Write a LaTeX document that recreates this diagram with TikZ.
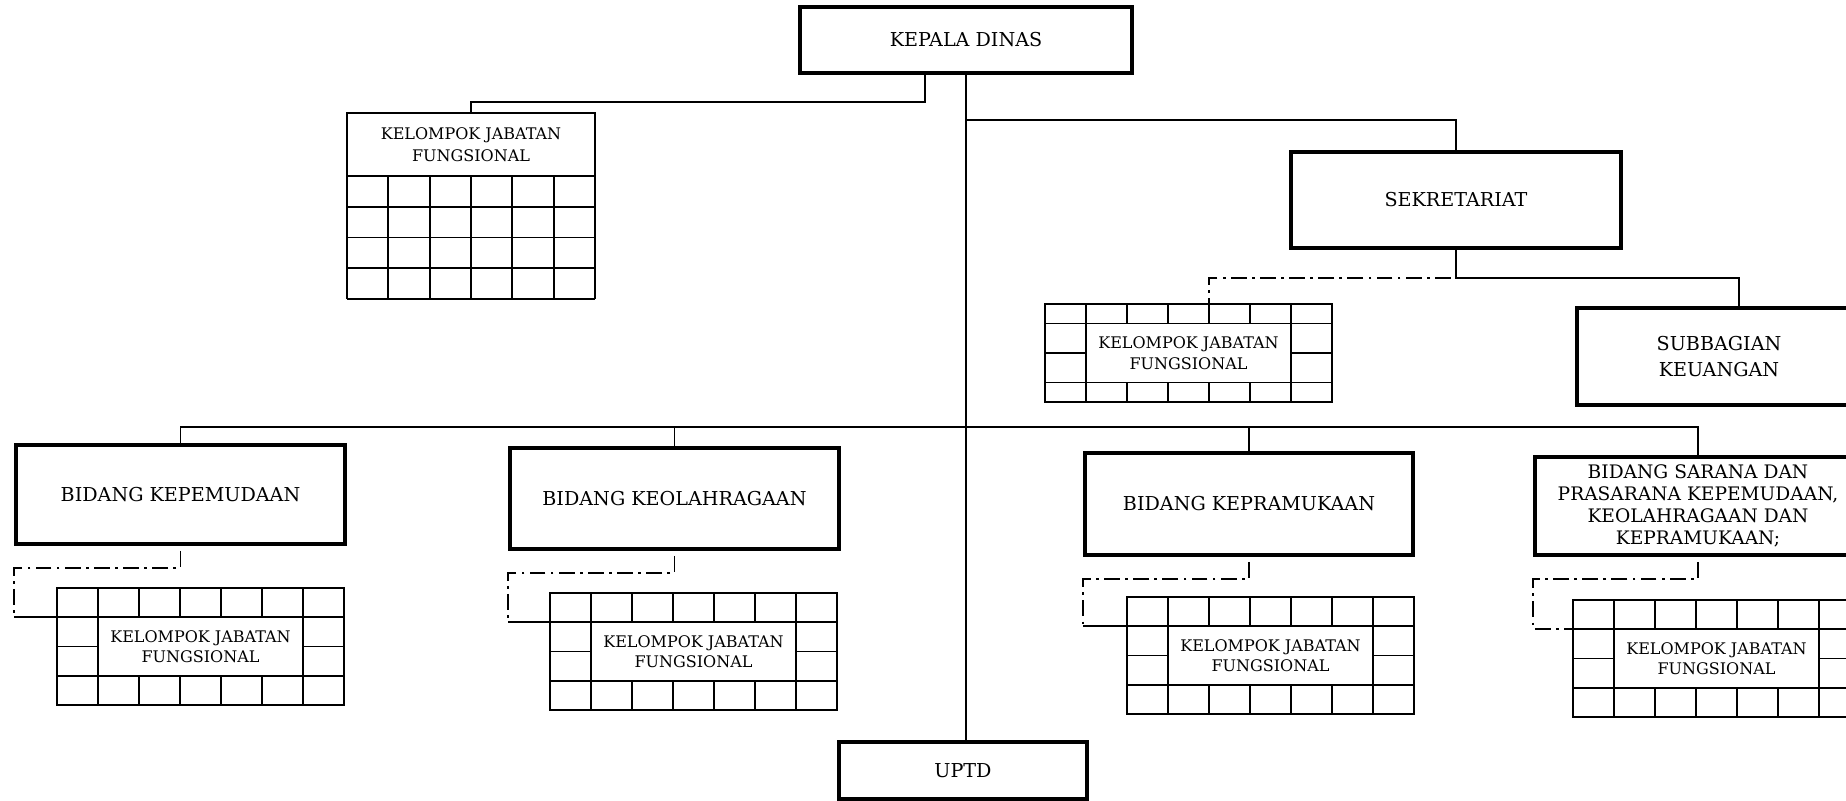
\documentclass[tikz,border=0pt]{standalone}
\usepackage{fontspec}
\setmainfont{DejaVu Serif}
\usetikzlibrary{positioning,calc}

% KJF box with a ring of cells: name, left, top, outer row height
\newcommand{\kjfring}[4]{%
  \node[kjfbox] (#1) at (#2+143.5,#3+#4+29.5) {KELOMPOK JABATAN\\FUNGSIONAL};
  \coordinate (#1-n) at (#2+143.5,#3);
  \coordinate (#1-r) at (#2,#3+#4);
  \draw[cellline] (#2,#3) rectangle ++(287,2*#4+59);
  \draw[cellline] (#2,#3+#4) -- ++(287,0) (#2,#3+#4+59) -- ++(287,0)
    (#2,#3+#4+29.5) -- ++(41,0) (#2+246,#3+#4+29.5) -- ++(41,0);
  \foreach \i in {1,...,6}
    \draw[cellline] (#2+41*\i,#3) -- ++(0,#4) (#2+41*\i,#3+#4+59) -- ++(0,#4);
}

\begin{document}
\begin{tikzpicture}[x=0.02cm,y=-0.02cm,
  unit/.style={draw,rectangle,line width=1.9pt,minimum width=6.58cm,minimum height=2cm,align=center,font={\fontsize{10.9}{14.5}\selectfont}},
  kjfbox/.style={draw,rectangle,line width=1pt,minimum width=4.1cm,minimum height=1.18cm,align=center,inner sep=1pt,font={\fontsize{9.1}{11.7}\selectfont}},
  cellline/.style={line width=1pt},
  link/.style={line width=1pt},
  kjfline/.style={line width=1.1pt,dash pattern=on 9pt off 3pt on 1.6pt off 3pt,dash phase=13.6pt}]
\clip (0,0) rectangle (1846,801);
\fill[white] (0,0) rectangle (1846,801);

% Top
\node[unit,minimum width=6.64cm,minimum height=1.32cm] (kepala) at (966,40) {KEPALA DINAS};
\node[kjfbox,minimum width=4.96cm,minimum height=1.26cm,font={\fontsize{9.1}{12.4}\selectfont}] (kjf0) at (471,144.5) {KELOMPOK JABATAN\\FUNGSIONAL};
\foreach \i in {0,...,6} \draw[cellline] (347+41.33*\i,176) -- ++(0,123);
\foreach \j in {1,...,4} \draw[cellline] (347,176+30.75*\j) -- ++(248,0);

% Sekretariat
\node[unit,minimum width=6.6cm,minimum height=1.92cm] (sek) at (1456,200) {SEKRETARIAT};
\node[unit,minimum width=5.68cm,minimum height=1.94cm] (sub) at (1719,356.5) {SUBBAGIAN\\KEUANGAN};
\kjfring{kjf1}{1045}{304}{19.5}

% Bidang
\node[unit,minimum height=1.98cm] (bid1) at (180.5,494.5) {BIDANG KEPEMUDAAN};
\node[unit,minimum height=2.02cm] (bid2) at (674.5,498.5) {BIDANG KEOLAHRAGAAN};
\node[unit,minimum width=6.56cm,minimum height=2.04cm] (bid3) at (1249,504) {BIDANG KEPRAMUKAAN};
\node[unit,minimum width=6.52cm,minimum height=1.96cm,font={\fontsize{10.6}{12.6}\selectfont}] (bid4) at (1698,506) {BIDANG SARANA DAN\\PRASARANA KEPEMUDAAN,\\KEOLAHRAGAAN DAN\\KEPRAMUKAAN;};
\kjfring{kjf2}{57}{588}{29}
\kjfring{kjf3}{550}{593}{29}
\kjfring{kjf4}{1127}{597}{29}
\kjfring{kjf5}{1573}{600}{29}

\node[unit,minimum width=4.96cm,minimum height=1.14cm] (uptd) at (963,770.5) {UPTD};

% Lines
\draw[link] (kepala.south) -- (kepala.south |- uptd.north);
\draw[link] ([xshift=-0.82cm]kepala.south) -- ++(0,27) -| (kjf0.north);
\draw[link] (kepala.south) ++(0,45) -| (sek.north);
\draw[link] (sek.south) -- ++(0,28) -| ([xshift=0.4cm]sub.north);
\draw[kjfline] (sek.south) ++(0,28) -| ([xshift=0.41cm]kjf1-n);

\coordinate (bus) at (966,427);
\draw[link] (bid1.north) |- (bus) -| (bid4.north);
\draw[link] (bid2.north) -- (bid2.north |- bus);
\draw[link] (bid3.north) -- (bid3.north |- bus);

\draw[kjfline] (bid1.south) -- ++(0,22) -| (bid1.west |- kjf2-r);
\draw[link] (bid1.west |- kjf2-r) -- (kjf2-r);
\draw[kjfline] (bid2.south) -- ++(0,22) -| (bid2.west |- kjf3-r);
\draw[link] (bid2.west |- kjf3-r) -- (kjf3-r);
\draw[kjfline] (bid3.south) -- ++(0,22) -| (bid3.west |- kjf4-r);
\draw[link] (bid3.west |- kjf4-r) -- (kjf4-r);
\draw[kjfline] (bid4.south) -- ++(0,22) -| (bid4.west |- kjf5-r) -- (kjf5-r);
\end{tikzpicture}
\end{document}
